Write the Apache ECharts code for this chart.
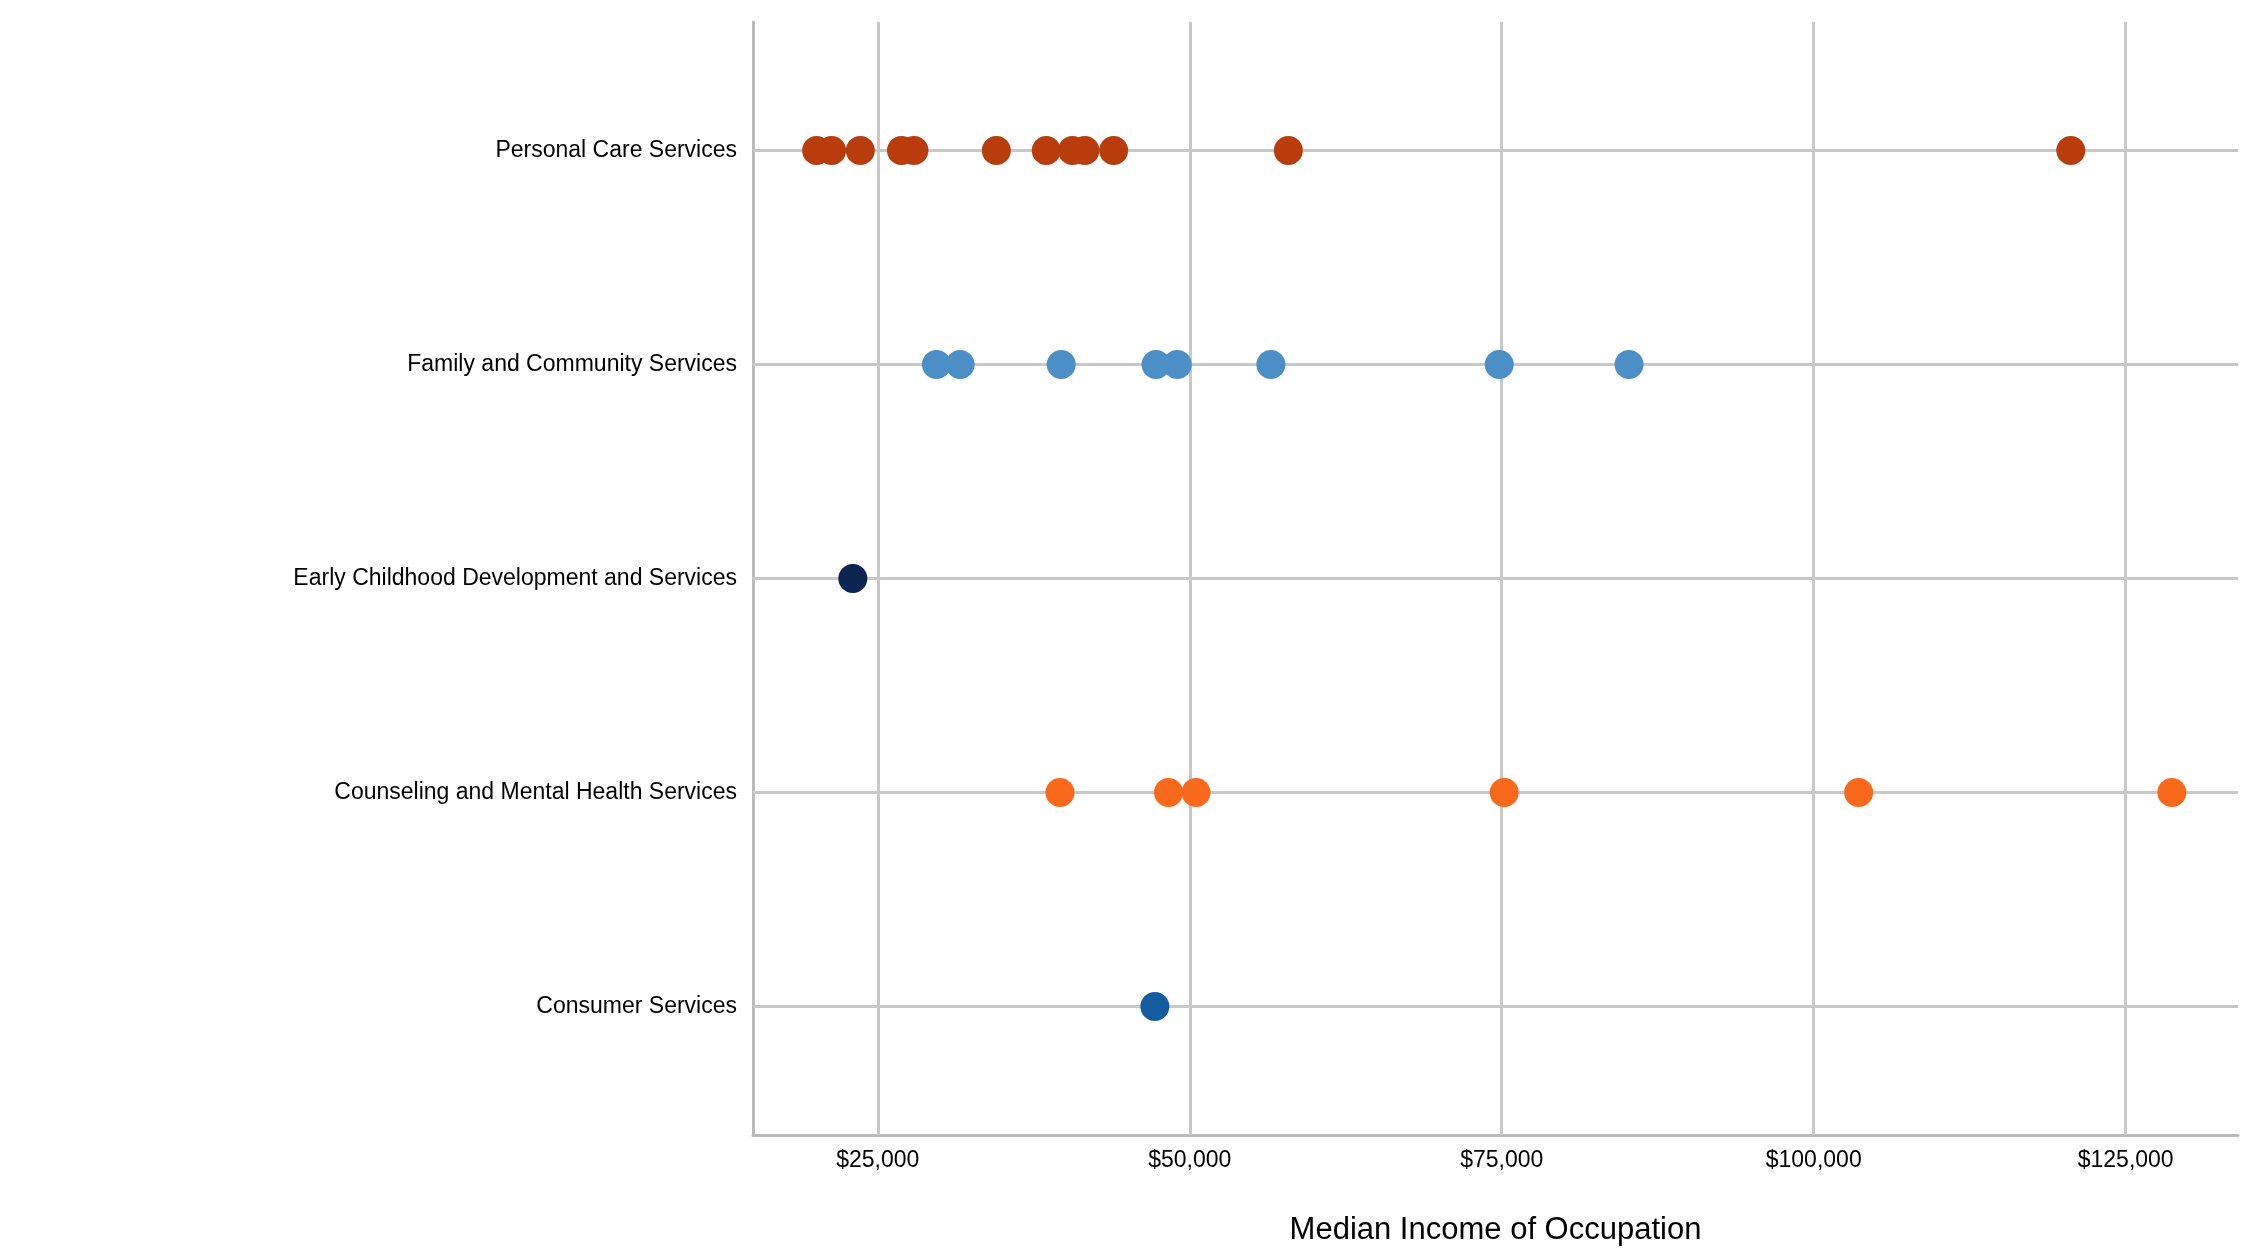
<!DOCTYPE html>
<html><head><meta charset="utf-8">
<script src="https://cdn.jsdelivr.net/npm/echarts@6/dist/echarts.min.js"></script>
<style>html,body{margin:0;padding:0;background:#fff}#c{width:2250px;height:1260px}</style>
</head><body><div id="c"></div>
<script>
// categories bottom (1) to top (5)
const categories = ["Consumer Services","Counseling and Mental Health Services","Early Childhood Development and Services","Family and Community Services","Personal Care Services"];
const colors = ["#135C9E","#F8691C","#0B2550","#4C8FC6","#B83C0C"];
const consumer = [47200];
const counseling = [39600,48300,50500,75200,103600,128700];
const earlyChildhood = [23000];
const family = [29700,31600,39700,47300,49000,56500,74800,85200];
const personalCare = [20100,21300,23600,26900,27900,34500,38500,40600,41600,43900,57900,120600];
const groups = [consumer,counseling,earlyChildhood,family,personalCare];
const xTicks = [25000,50000,75000,100000,125000];

const font = "Liberation Sans, Arial, sans-serif";
const grid = {color:'#c8c8c8',width:3,type:'solid'};
const series = groups.map((vals,i)=>({
  type:'scatter', name:categories[i], symbolSize:29, z:5,
  itemStyle:{color:colors[i],opacity:1},
  data: vals.map(v=>[v,i+1]),
  markLine: i===0 ? {silent:true, symbol:'none', label:{show:false}, z:1, lineStyle:grid,
    data:[1,2,3,4,5].map(y=>({yAxis:y})).concat(xTicks.map(x=>({xAxis:x})))} : undefined
}));

const chart = echarts.init(document.getElementById('c'));
chart.setOption({
  animation:false,
  grid:{left:753,right:12,top:22,bottom:125},
  xAxis:{type:'value',min:15000,max:134000,interval:5000,
    name:'Median Income of Occupation',nameLocation:'middle',nameGap:80,
    nameTextStyle:{fontSize:31,color:'#000',fontFamily:font},
    axisLine:{show:true,lineStyle:{color:'#bbb',width:3}},
    axisTick:{show:false},
    axisLabel:{fontSize:23,color:'#000',fontFamily:font,margin:14,showMinLabel:false,showMaxLabel:false,
      formatter:v=>{const r=Math.round(v); return r%25000===0 ? '$'+r.toLocaleString('en-US') : '';}},
    splitLine:{show:false}
  },
  yAxis:{type:'value',min:0.4,max:5.6,interval:0.2,
    axisLine:{show:true,lineStyle:{color:'#bbb',width:3}},
    axisTick:{show:false},
    axisLabel:{fontSize:23,color:'#000',fontFamily:font,margin:16,showMinLabel:false,showMaxLabel:false,
      formatter:v=>{const r=Math.round(v); return Math.abs(v-r)<1e-6 && r>=1 && r<=5 ? categories[r-1] : '';}},
    splitLine:{show:false}
  },
  series
});
</script></body></html>
